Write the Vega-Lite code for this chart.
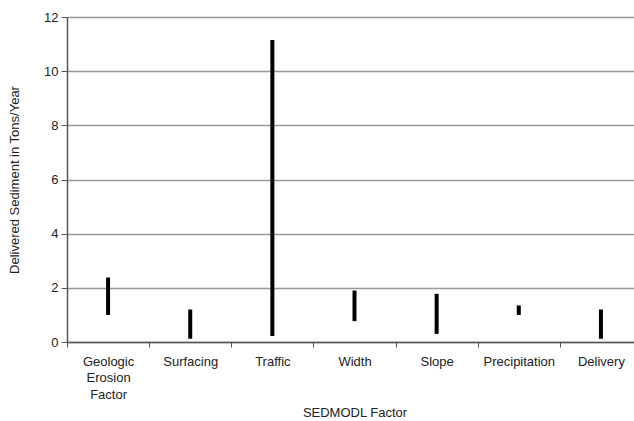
{
  "$schema": "https://vega.github.io/schema/vega-lite/v6.json",
  "autosize": {"type": "none"},
  "padding": {"left": 67, "top": 17, "right": 0, "bottom": 79},
  "width": 567,
  "height": 325,
  "background": "white",
  "config": {
    "font": "Liberation Sans",
    "view": {"stroke": null},
    "axis": {"labelFont": "Liberation Sans", "titleFont": "Liberation Sans", "labelFontSize": 13, "titleFontSize": 13, "titleFontWeight": "normal", "labelColor": "#222", "titleColor": "#222"}
  },
  "data": {
    "values": [
      {"factor": "Geologic Erosion Factor", "low": 1.0, "high": 2.38},
      {"factor": "Surfacing", "low": 0.12, "high": 1.2},
      {"factor": "Traffic", "low": 0.22, "high": 11.15},
      {"factor": "Width", "low": 0.77, "high": 1.9},
      {"factor": "Slope", "low": 0.3, "high": 1.78},
      {"factor": "Precipitation", "low": 1.0, "high": 1.35},
      {"factor": "Delivery", "low": 0.12, "high": 1.2}
    ]
  },
  "mark": {"type": "rule", "strokeWidth": 4, "color": "black"},
  "encoding": {
    "x": {
      "field": "factor", "type": "nominal", "sort": null,
      "scale": {"paddingInner": 0, "paddingOuter": 0, "range": [0, 575]},
      "axis": {
        "title": "SEDMODL Factor", "labelAngle": 0, "tickBand": "extent",
        "domainColor": "#555", "domainWidth": 1.5, "tickColor": "#555", "tickSize": 5,
        "labelPadding": 8, "labelLineHeight": 16.5, "labelBaseline": "top",
        "labelExpr": "datum.label == 'Geologic Erosion Factor' ? ['Geologic', 'Erosion', 'Factor'] : datum.label",
        "titlePadding": 5, "grid": false
      }
    },
    "y": {
      "field": "low", "type": "quantitative",
      "scale": {"domain": [0, 12], "nice": false},
      "axis": {
        "title": "Delivered Sediment in Tons/Year", "values": [0, 2, 4, 6, 8, 10, 12],
        "grid": true, "gridColor": "#999", "gridWidth": 1.5,
        "domainColor": "#555", "domainWidth": 1.5, "tickColor": "#555", "tickSize": 6,
        "labelPadding": 3, "titlePadding": 22
      }
    },
    "y2": {"field": "high"}
  }
}
